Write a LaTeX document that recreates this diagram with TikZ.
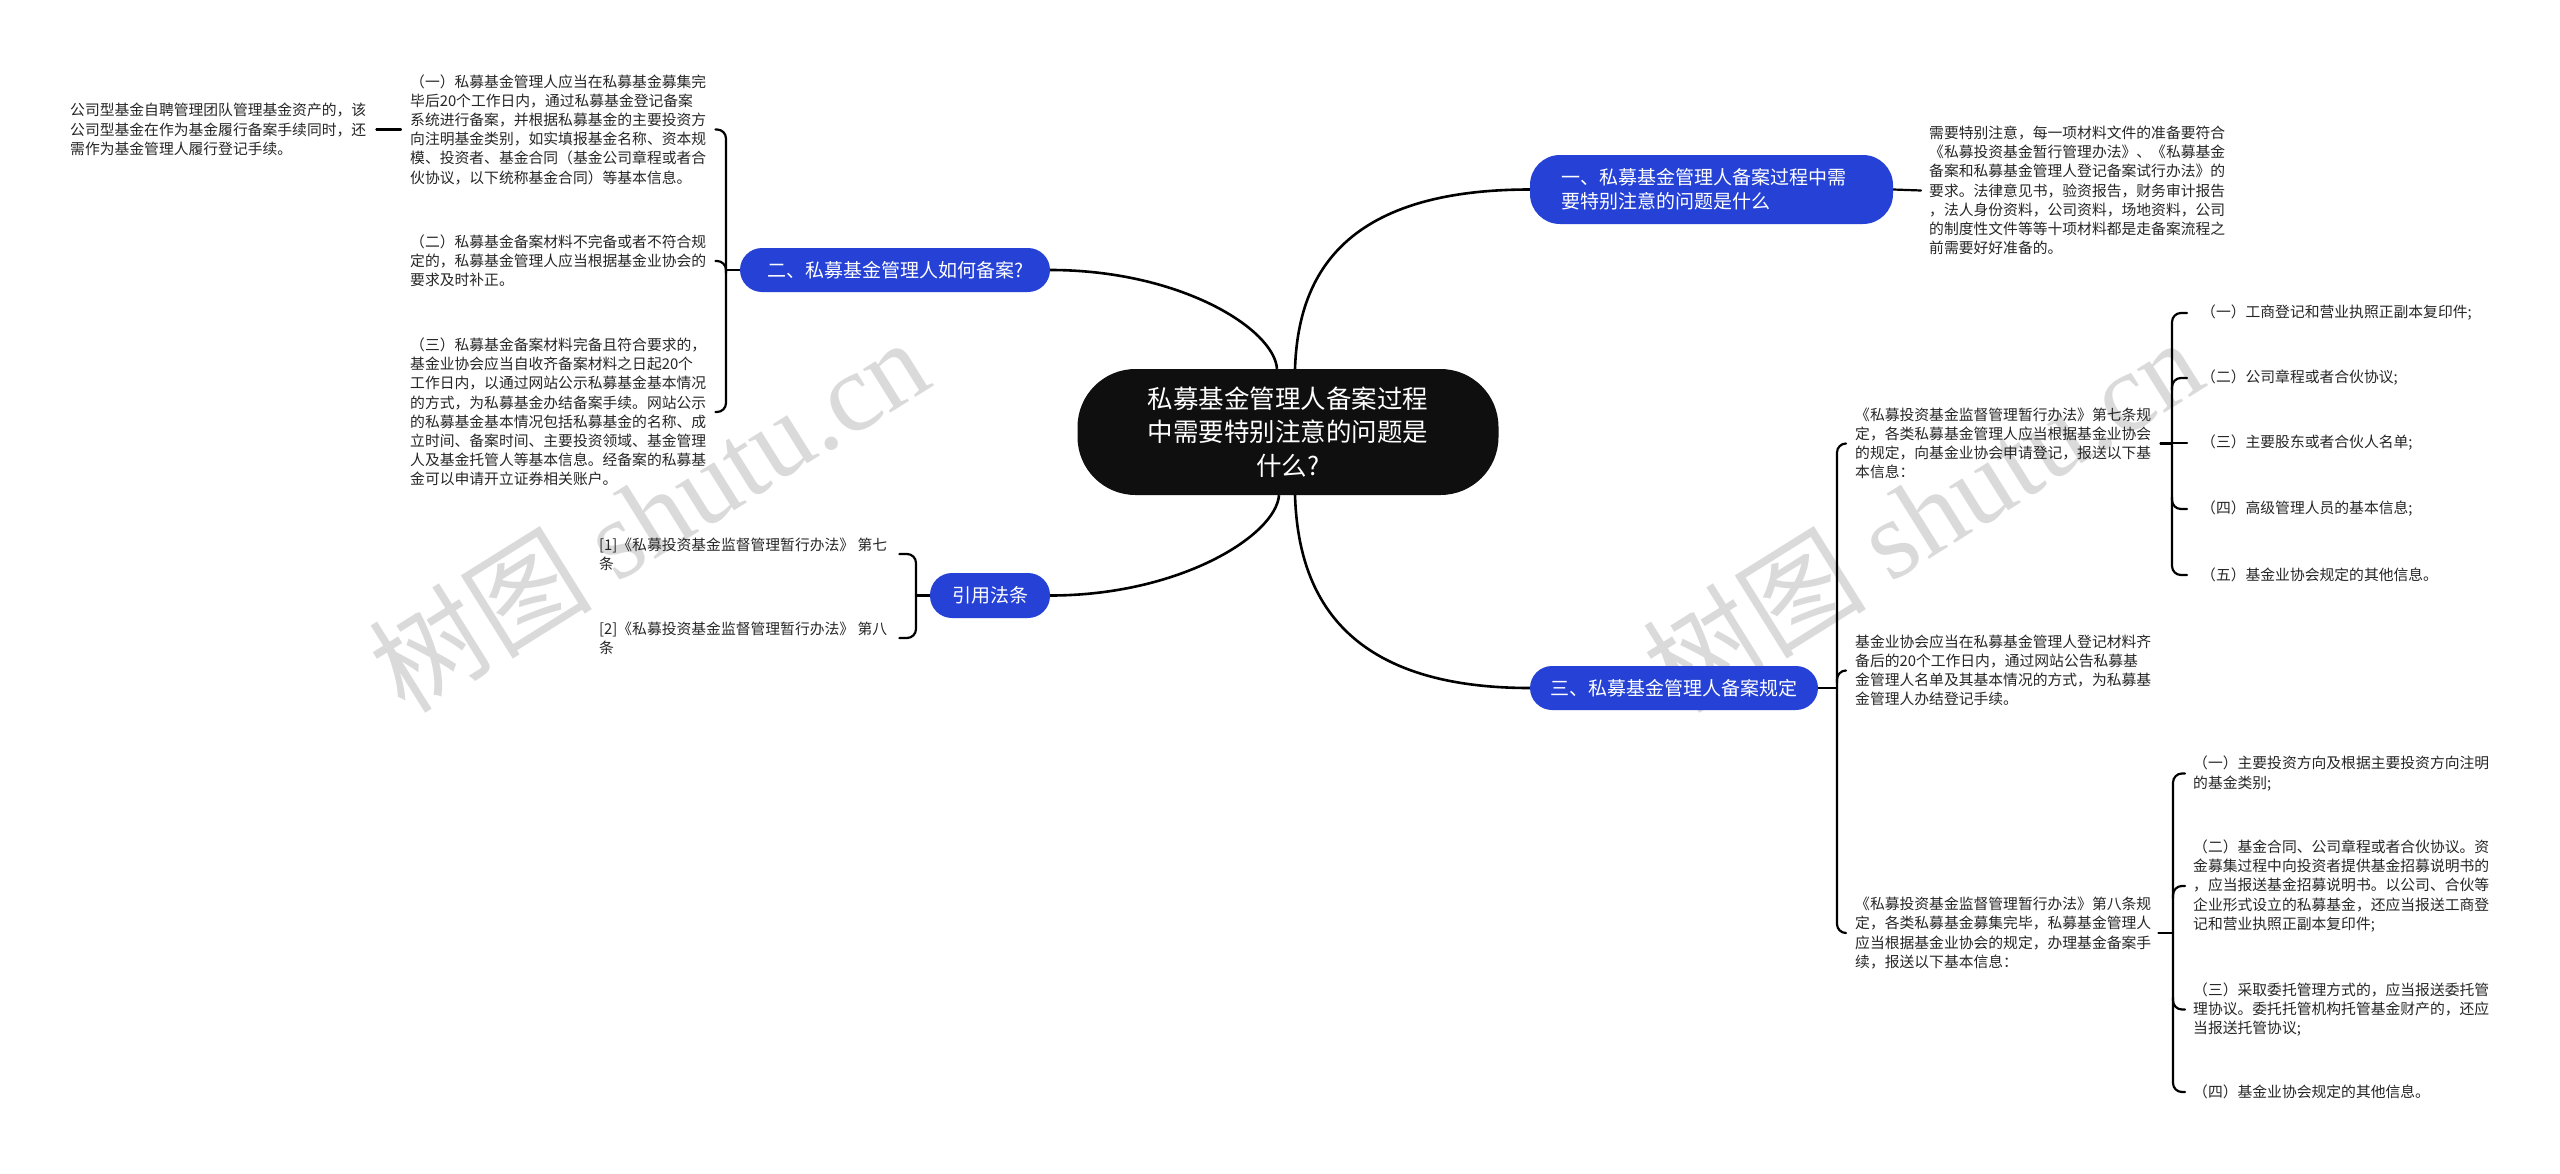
\documentclass[tikz,border=0pt]{standalone}
\usepackage{fontspec}
\setmainfont{Noto Sans CJK SC}
\newfontfamily\wmlatin{Liberation Serif}
\usetikzlibrary{calc}
\definecolor{bblue}{RGB}{38,66,214}
\definecolor{rootfill}{RGB}{15,15,15}
\definecolor{txt}{RGB}{38,38,38}
\definecolor{wm}{RGB}{218,218,218}
\pgfdeclarelayer{back}
\pgfdeclarelayer{lines}
\pgfsetlayers{back,lines,main}
\begin{document}
\begin{tikzpicture}[x=1pt,y=-1pt,
  leaf/.style={font=\fontsize{14.8}{19.2}\selectfont, text=txt, align=left, inner sep=0pt, anchor=west},
  branch/.style={fill=bblue, text=white, font=\fontsize{19}{24}\selectfont, inner sep=0pt, minimum height=44pt, rounded corners=22pt},
  conn/.style={draw=black, line width=2.2pt, line cap=round},
  trunk/.style={draw=black, line width=2.6pt},
  brace/.style={conn, rounded corners=9pt},
  wmark/.style={text=wm, rotate=32, font=\fontsize{112}{130}\selectfont, inner sep=0pt}
]
\begin{pgfonlayer}{back}
\fill[white] (0,0) rectangle (2560,1173);
\node[wmark] (wm1) at (648,514) {树图 {\wmlatin shutu.cn}};
\node[wmark] (wm2) at (1922,514) {树图 {\wmlatin shutu.cn}};
\end{pgfonlayer}
\useasboundingbox (0,0) rectangle (2560,1173);

% root and branches
\node[fill=rootfill, text=white, minimum width=421pt, minimum height=126pt, rounded corners=58pt, align=center, font=\fontsize{25.5}{33.5}\selectfont, inner sep=0pt] (root) at (1288,432) {私募基金管理人备案过程\\中需要特别注意的问题是\\什么?};
\node[branch, rounded corners=30pt, minimum width=363pt, minimum height=69pt, text width=300pt, align=left] (n1) at (1711.5,189.5) {一、私募基金管理人备案过程中需\\要特别注意的问题是什么};
\node[branch, minimum width=310pt] (n2) at (895,270) {二、私募基金管理人如何备案?};
\node[branch, minimum width=288pt] (n3) at (1674,688) {三、私募基金管理人备案规定};
\node[branch, minimum width=120pt, minimum height=45pt] (n4) at (990,595.5) {引用法条};

% left leaves
\node[leaf] (L1) at (410,129.5) {（一）私募基金管理人应当在私募基金募集完\\毕后20个工作日内，通过私募基金登记备案\\系统进行备案，并根据私募基金的主要投资方\\向注明基金类别，如实填报基金名称、资本规\\模、投资者、基金合同（基金公司章程或者合\\伙协议，以下统称基金合同）等基本信息。};
\node[leaf] (L2) at (410,261) {（二）私募基金备案材料不完备或者不符合规\\定的，私募基金管理人应当根据基金业协会的\\要求及时补正。};
\node[leaf] (L3) at (410,412) {（三）私募基金备案材料完备且符合要求的，\\基金业协会应当自收齐备案材料之日起20个\\工作日内，以通过网站公示私募基金基本情况\\的方式，为私募基金办结备案手续。网站公示\\的私募基金基本情况包括私募基金的名称、成\\立时间、备案时间、主要投资领域、基金管理\\人及基金托管人等基本信息。经备案的私募基\\金可以申请开立证券相关账户。};
\node[leaf] (L0) at (70,129.5) {公司型基金自聘管理团队管理基金资产的，该\\公司型基金在作为基金履行备案手续同时，还\\需作为基金管理人履行登记手续。};
\node[leaf] (R1) at (599,554) {[1]《私募投资基金监督管理暂行办法》 第七\\条};
\node[leaf] (R2) at (599,638) {[2]《私募投资基金监督管理暂行办法》 第八\\条};

% right leaves
\node[leaf] (RT) at (1929,190.5) {需要特别注意，每一项材料文件的准备要符合\\《私募投资基金暂行管理办法》、《私募基金\\备案和私募基金管理人登记备案试行办法》的\\要求。法律意见书，验资报告，财务审计报告\\，法人身份资料，公司资料，场地资料，公司\\的制度性文件等等十项材料都是走备案流程之\\前需要好好准备的。};
\node[leaf] (T1) at (1855,443.5) {《私募投资基金监督管理暂行办法》第七条规\\定，各类私募基金管理人应当根据基金业协会\\的规定，向基金业协会申请登记，报送以下基\\本信息：};
\node[leaf] (T2) at (1855,670.5) {基金业协会应当在私募基金管理人登记材料齐\\备后的20个工作日内，通过网站公告私募基\\金管理人名单及其基本情况的方式，为私募基\\金管理人办结登记手续。};
\node[leaf] (T3) at (1855,933) {《私募投资基金监督管理暂行办法》第八条规\\定，各类私募基金募集完毕，私募基金管理人\\应当根据基金业协会的规定，办理基金备案手\\续，报送以下基本信息：};
\node[leaf] (P1) at (2201,313) {（一）工商登记和营业执照正副本复印件;};
\node[leaf] (P2) at (2201,378) {（二）公司章程或者合伙协议;};
\node[leaf] (P3) at (2201,443) {（三）主要股东或者合伙人名单;};
\node[leaf] (P4) at (2201,509) {（四）高级管理人员的基本信息;};
\node[leaf] (P5) at (2201,575) {（五）基金业协会规定的其他信息。};
\node[leaf] (U1) at (2193,773.5) {（一）主要投资方向及根据主要投资方向注明\\的基金类别;};
\node[leaf] (U2) at (2193,886) {（二）基金合同、公司章程或者合伙协议。资\\金募集过程中向投资者提供基金招募说明书的\\，应当报送基金招募说明书。以公司、合伙等\\企业形式设立的私募基金，还应当报送工商登\\记和营业执照正副本复印件;};
\node[leaf] (U3) at (2193,1009.5) {（三）采取委托管理方式的，应当报送委托管\\理协议。委托托管机构托管基金财产的，还应\\当报送托管协议;};
\node[leaf] (U4) at (2193,1092) {（四）基金业协会规定的其他信息。};

\begin{pgfonlayer}{lines}
% trunk curves
\draw[trunk] ($(root.north)+(7,0)$) .. controls ($(root.north)+(10,-90)$) and ($(n1.west)+(-190,0)$) .. (n1.west);
\draw[trunk] ($(root.north)+(-11,0)$) .. controls ($(root.north)+(-14,-40)$) and ($(n2.east)+(130,0)$) .. (n2.east);
\draw[trunk] ($(root.south)+(7,0)$) .. controls ($(root.south)+(10,95)$) and ($(n3.west)+(-190,0)$) .. (n3.west);
\draw[trunk] ($(root.south)+(-9,0)$) .. controls ($(root.south)+(-12,40)$) and ($(n4.east)+(130,0)$) .. (n4.east);

% branch two
\coordinate (sL) at (726,270);
\draw[conn] (n2.west) -- (n2.west -| sL);
\draw[brace] ($(L1.east)+(9,0)$) -- (L1.east -| sL) -- (L3.east -| sL) -- ($(L3.east)+(9,0)$);
\draw[brace] ($(L2.east -| sL)+(0,12)$) -- (L2.east -| sL) -- ($(L2.east)+(9,0)$);
\draw[conn] ($(L1.west)+(-9,0)$) -- ($(L0.east)+(10,0)$);

% citations
\coordinate (sR) at (916,596);
\draw[conn] (n4.west) -- (n4.west -| sR);
\draw[brace] ($(R1.east)+(12,0)$) -- (R1.east -| sR) -- (R2.east -| sR) -- ($(R2.east)+(12,0)$);

% branch one
\draw[conn] (n1.east) -- ($(RT.west)+(-8,0)$);

% branch three
\coordinate (sM) at (1837,688);
\draw[conn] (n3.east) -- (n3.east -| sM);
\draw[brace] ($(T1.west)+(-9,0)$) -- (T1.west -| sM) -- (T3.west -| sM) -- ($(T3.west)+(-9,0)$);
\draw[brace] ($(T2.west -| sM)+(0,12)$) -- (T2.west -| sM) -- ($(T2.west)+(-9,0)$);

\coordinate (sA) at (2172,443);
\draw[conn] ($(T1.east)+(9,0)$) -- (T1.east -| sA);
\draw[brace] ($(P1.west)+(-14,0)$) -- (P1.west -| sA) -- (P5.west -| sA) -- ($(P5.west)+(-14,0)$);
\draw[brace] ($(P2.west -| sA)+(0,12)$) -- (P2.west -| sA) -- ($(P2.west)+(-14,0)$);
\draw[conn] (P3.west -| sA) -- ($(P3.west)+(-14,0)$);
\draw[brace] ($(P4.west -| sA)+(0,-12)$) -- (P4.west -| sA) -- ($(P4.west)+(-14,0)$);

\coordinate (sB) at (2173,933);
\draw[conn] ($(T3.east)+(7,0)$) -- (T3.east -| sB);
\draw[brace] ($(U1.west)+(-8,0)$) -- (U1.west -| sB) -- (U4.west -| sB) -- ($(U4.west)+(-8,0)$);
\draw[brace] ($(U2.west -| sB)+(0,12)$) -- (U2.west -| sB) -- ($(U2.west)+(-8,0)$);
\draw[brace] ($(U3.west -| sB)+(0,-12)$) -- (U3.west -| sB) -- ($(U3.west)+(-8,0)$);
\end{pgfonlayer}
\end{tikzpicture}
\end{document}
